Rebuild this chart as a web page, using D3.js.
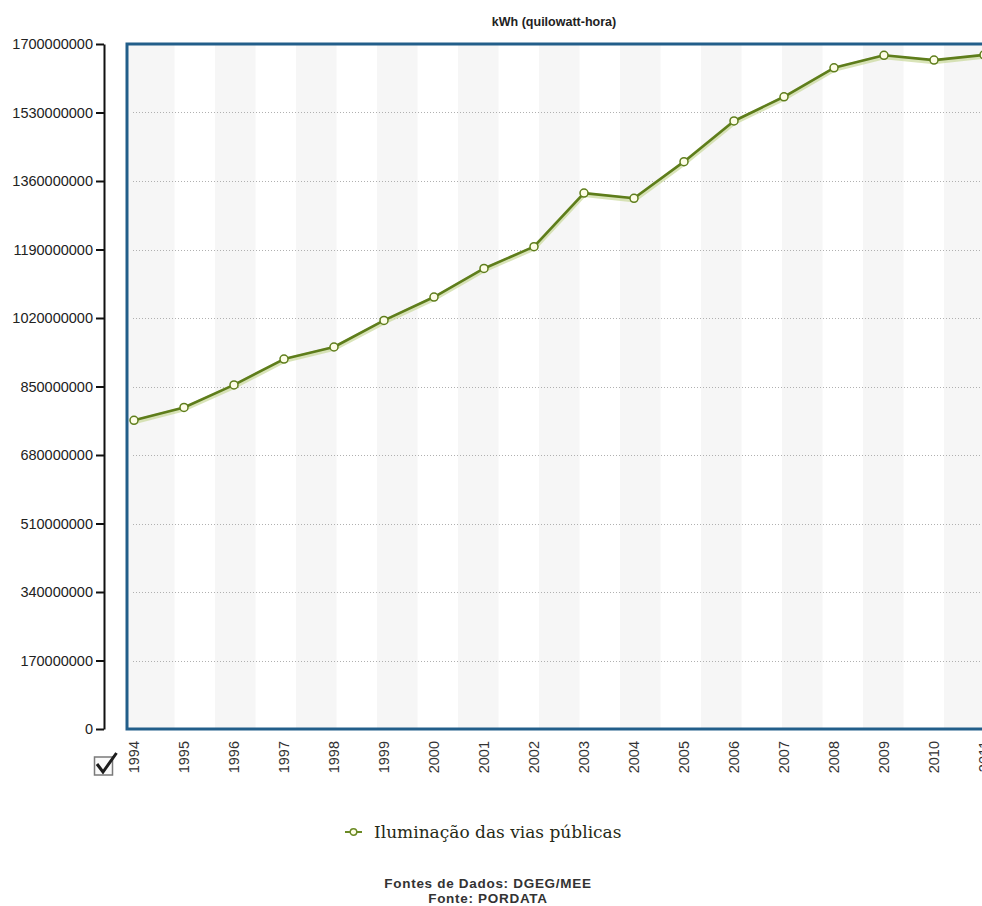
<!DOCTYPE html>
<html>
<head>
<meta charset="utf-8">
<script src="https://cdn.jsdelivr.net/npm/d3@7"></script>
<style>
  html, body { margin: 0; padding: 0; background: #fff; }
  svg { display: block; }
</style>
</head>
<body>
<svg id="chart" width="982" height="906"></svg>
<script>
// Street-lighting electricity consumption, kWh per year
const years = ["1994","1995","1996","1997","1998","1999","2000","2001","2002",
               "2003","2004","2005","2006","2007","2008","2009","2010","2011"];
const consumption = [766000000, 798000000, 854000000, 918000000, 948000000,
                     1014000000, 1072000000, 1143000000, 1197000000, 1330000000,
                     1317000000, 1408000000, 1509000000, 1569000000, 1641000000,
                     1672000000, 1660000000, 1673000000];
const yTicks = [0, 170000000, 340000000, 510000000, 680000000, 850000000,
                1020000000, 1190000000, 1360000000, 1530000000, 1700000000];
const seriesName = "Iluminação das vias públicas";
const unitTitle = "kWh (quilowatt-hora)";
const sourceLines = ["Fontes de Dados: DGEG/MEE", "Fonte: PORDATA"];

const W = 982, H = 906;
const plot = { left: 127, top: 44, bottom: 729, right: 1010 };
const axisX = 104;
const firstPointOffset = 7, pointStep = 50;
const stripeWidth = 40.5;

const svg = d3.select("#chart");

const x = d3.scalePoint()
  .domain(years)
  .range([plot.left + firstPointOffset,
          plot.left + firstPointOffset + pointStep * (years.length - 1)]);

const y = d3.scaleLinear()
  .domain([0, d3.max(yTicks)])
  .range([plot.bottom, plot.top]);

// clip region for the plotting area
svg.append("defs").append("clipPath").attr("id", "plotClip")
  .append("rect")
  .attr("x", plot.left).attr("y", plot.top)
  .attr("width", plot.right - plot.left).attr("height", plot.bottom - plot.top);

const body = svg.append("g").attr("clip-path", "url(#plotClip)");

// alternating background stripes
const stripeStart = x(years[0]);
const stripes = d3.range(stripeStart, plot.right, stripeWidth * 2);
body.selectAll("rect.stripe")
  .data(stripes)
  .join("rect")
  .attr("class", "stripe")
  .attr("x", (d, i) => i === 0 ? plot.left : d)
  .attr("y", plot.top)
  .attr("width", (d, i) => i === 0 ? d + stripeWidth - plot.left : stripeWidth)
  .attr("height", plot.bottom - plot.top)
  .attr("fill", "#f6f6f6");

// dotted horizontal grid
body.selectAll("line.grid")
  .data(yTicks.filter(t => t > 0 && t < d3.max(yTicks)))
  .join("line")
  .attr("class", "grid")
  .attr("x1", plot.left + 6).attr("x2", plot.right)
  .attr("y1", d => Math.round(y(d)) + 0.5).attr("y2", d => Math.round(y(d)) + 0.5)
  .attr("stroke", "#b0b0b0")
  .attr("stroke-width", 1)
  .attr("stroke-dasharray", "1,2");

const pts = years.map((yr, i) => ({ year: yr, value: consumption[i] }));
const line = d3.line().x(d => x(d.year)).y(d => y(d.value));

// soft glow beneath the series line
body.append("path")
  .datum(pts)
  .attr("d", line)
  .attr("fill", "none")
  .attr("stroke", "#c9d99a")
  .attr("stroke-width", 5)
  .attr("stroke-opacity", 0.7)
  .attr("transform", "translate(0,1.5)");

body.append("path")
  .datum(pts)
  .attr("d", line)
  .attr("fill", "none")
  .attr("stroke", "#5e7d1b")
  .attr("stroke-width", 2.6)
  .attr("stroke-linejoin", "round");

body.selectAll("circle.pt")
  .data(pts)
  .join("circle")
  .attr("class", "pt")
  .attr("cx", d => x(d.year))
  .attr("cy", d => y(d.value))
  .attr("r", 4)
  .attr("fill", "#fdfde6")
  .attr("stroke", "#5e7d1b")
  .attr("stroke-width", 1.5);

// plot frame
svg.append("rect")
  .attr("x", plot.left).attr("y", plot.top)
  .attr("width", plot.right - plot.left).attr("height", plot.bottom - plot.top)
  .attr("fill", "none")
  .attr("stroke", "#225e8a")
  .attr("stroke-width", 3);

// value axis
const yAxis = svg.append("g")
  .attr("transform", `translate(${axisX},0)`)
  .call(d3.axisLeft(y).tickValues(yTicks).tickFormat(d3.format("d"))
        .tickSize(8).tickSizeOuter(0).tickPadding(3));
yAxis.select(".domain").attr("stroke", "#111").attr("stroke-width", 2);
yAxis.selectAll(".tick line").attr("stroke", "#111").attr("stroke-width", 2);
yAxis.selectAll(".tick text")
  .attr("fill", "#222")
  .style("font-family", "'Liberation Sans', Arial, sans-serif")
  .style("font-size", "14.5px");

// year labels, rotated
svg.append("g").selectAll("text.year")
  .data(years)
  .join("text")
  .attr("class", "year")
  .attr("transform", d => `translate(${x(d)},${plot.bottom + 12}) rotate(-90)`)
  .attr("dy", "0.36em")
  .attr("text-anchor", "end")
  .attr("fill", "#333")
  .style("font-family", "'Liberation Sans', Arial, sans-serif")
  .style("font-size", "14.5px")
  .text(d => d);

// checkbox toggle next to the year labels
const cb = svg.append("g").attr("transform", "translate(94.5,757)");
cb.append("rect")
  .attr("width", 18).attr("height", 18)
  .attr("fill", "#fafafa").attr("stroke", "#7a7a7a").attr("stroke-width", 1.5);
cb.append("path")
  .attr("d", "M2.5,7 L8.5,15 L22,-4")
  .attr("fill", "none").attr("stroke", "#1d1d1d").attr("stroke-width", 3)
  .attr("stroke-linejoin", "miter");

// title
svg.append("text")
  .attr("x", 554).attr("y", 26)
  .attr("text-anchor", "middle")
  .attr("fill", "#222")
  .style("font-family", "'Liberation Sans', Arial, sans-serif")
  .style("font-size", "12.5px")
  .style("font-weight", "bold")
  .text(unitTitle);

// legend
const lg = svg.append("g").attr("transform", "translate(345,832)");
lg.append("line").attr("x1", 0).attr("x2", 17).attr("y1", 0).attr("y2", 0)
  .attr("stroke", "#6b8a25").attr("stroke-width", 2);
lg.append("circle").attr("cx", 8.5).attr("cy", 0).attr("r", 3.3)
  .attr("fill", "#fdfde6").attr("stroke", "#6b8a25").attr("stroke-width", 1.4);
lg.append("text")
  .attr("x", 29).attr("y", 5.5)
  .attr("fill", "#262a16")
  .style("font-family", "'DejaVu Serif', Georgia, serif")
  .style("font-size", "17px")
  .text(seriesName);

// sources
svg.append("g").selectAll("text.src")
  .data(sourceLines)
  .join("text")
  .attr("class", "src")
  .attr("x", 488)
  .attr("y", (d, i) => 888 + i * 15)
  .attr("text-anchor", "middle")
  .attr("fill", "#333")
  .style("font-family", "'Liberation Sans', Arial, sans-serif")
  .style("font-size", "13.5px")
  .style("font-weight", "bold")
  .style("letter-spacing", "0.7px")
  .text(d => d);
</script>
</body>
</html>
